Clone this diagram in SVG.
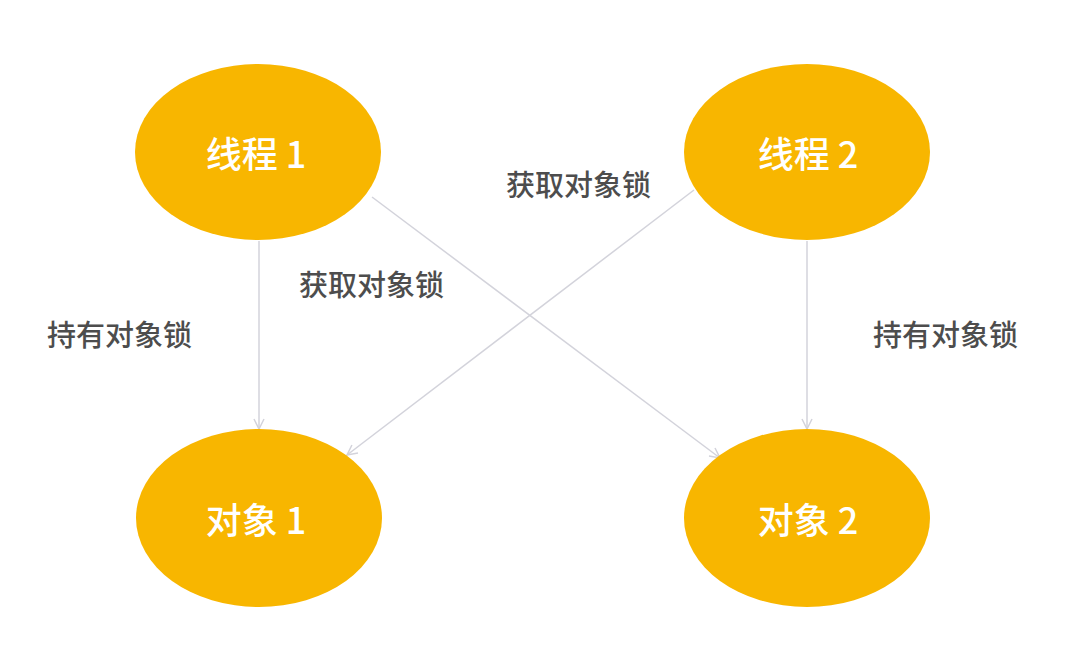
<svg xmlns="http://www.w3.org/2000/svg" width="1080" height="665" viewBox="0 0 1080 665">
<defs>
<style>
.node{fill:#F8B600;}
.nt{fill:#FFFFFF;font-family:"Noto Sans CJK SC","Liberation Sans",sans-serif;font-size:36px;font-weight:500;text-anchor:middle;}
.lbl{fill:#4d4d4d;font-family:"Noto Sans CJK SC","Liberation Sans",sans-serif;font-size:29px;font-weight:500;}
.edge{stroke:#d3d3db;stroke-width:1.5;fill:none;marker-end:url(#ah);}
</style>
<marker id="ah" viewBox="0 0 12 12" refX="11" refY="6" markerWidth="12" markerHeight="12" markerUnits="userSpaceOnUse" orient="auto">
<path d="M1,1 L11,6 L1,11" fill="none" stroke="#d3d3db" stroke-width="1.5"/>
</marker>
</defs>
<rect width="1080" height="665" fill="#FFFFFF"/>
<g id="connectors">
<line class="edge" x1="259" y1="241" x2="259" y2="429"/>
<line class="edge" x1="372" y1="197" x2="720" y2="458"/>
<line class="edge" x1="694" y1="190" x2="347" y2="455"/>
<line class="edge" x1="807" y1="241" x2="807" y2="429"/>
</g>
<g id="labels">
<text class="lbl" x="47" y="346">持有对象锁</text>
<text class="lbl" x="299" y="296">获取对象锁</text>
<text class="lbl" x="506" y="196">获取对象锁</text>
<text class="lbl" x="873" y="346">持有对象锁</text>
</g>
<g id="thread1">
<ellipse class="node" cx="258" cy="152" rx="123" ry="88"/>
<text class="nt" x="256" y="168">线程 1</text>
</g>
<g id="thread2">
<ellipse class="node" cx="807" cy="152" rx="123" ry="88"/>
<text class="nt" x="808" y="168">线程 2</text>
</g>
<g id="object1">
<ellipse class="node" cx="259" cy="518" rx="123" ry="89"/>
<text class="nt" x="256" y="534">对象 1</text>
</g>
<g id="object2">
<ellipse class="node" cx="807" cy="518" rx="123" ry="89"/>
<text class="nt" x="808" y="534">对象 2</text>
</g>
</svg>
